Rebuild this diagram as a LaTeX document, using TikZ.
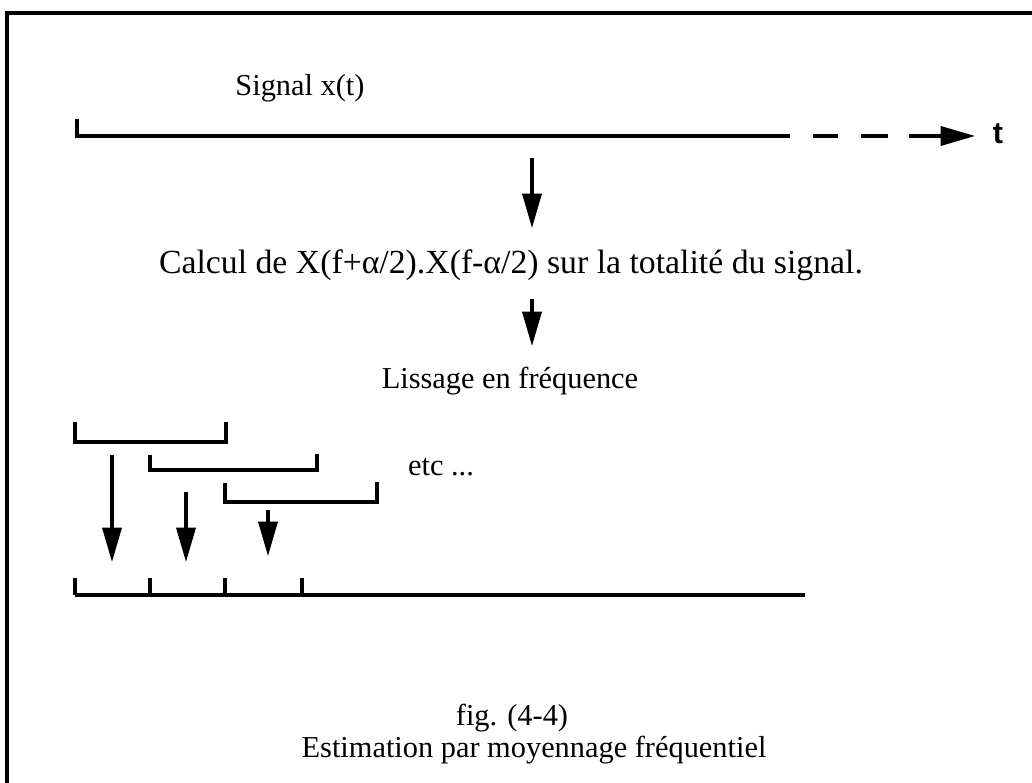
\documentclass[tikz,border=0pt]{standalone}
\usepackage{fontspec}
\setmainfont{Liberation Serif}
\newfontfamily\tfont{Liberation Sans}
\usetikzlibrary{arrows.meta, positioning}

\begin{document}
\begin{tikzpicture}[
  x=0.0125cm, y=-0.0125cm,
  font=\fontsize{10.8}{13}\selectfont,
  ln/.style={line width=1.1pt},
  brk/.style={line width=1.1pt, line cap=rect},
  ar/.style={line width=1.1pt, -{Triangle[length=4.3mm, width=2.4mm]}},
  lbl/.style={inner sep=1pt}
]
\useasboundingbox (0,0) rectangle (1032,783);

% ================= frame =================
\draw[line width=1.5pt] (1032,13) -- (7,13) -- (7,783);

% ================= signal axis =================
\node[lbl] (sig) at (300,88) {Signal x(t)};
\coordinate (T0) at (77,119);
\coordinate (TL) at (77,136);
\coordinate (TS) at (790,136);
\coordinate (TD) at (909,136);
\coordinate (TA) at (975,136);
\node[lbl, font=\tfont\bfseries\fontsize{10.8}{13}\selectfont] (t) at (998,134) {t};
\draw[ln] (T0) -- (TL) -- (TS);
\draw[ln] (813,136) -- (838,136) (861,136) -- (888,136);
\draw[ar] (TD) -- (TA);

% ================= processing steps =================
\node[lbl, font=\fontsize{12}{14}\selectfont] (calc) at (511,265)
  {Calcul de X(f+α/2).X(f-α/2) sur la totalité du signal.};
\node[lbl] (liss) at (510,381) {Lissage en fréquence};
\coordinate (A1s) at (532,158);
\coordinate (A1e) at (532,228);
\coordinate (A2s) at (532,299);
\coordinate (A2e) at (532,346);
\draw[ar] (A1s) -- (A1e);
\draw[ar] (A2s) -- (A2e);

% ================= sliding windows =================
\draw[brk] (75,424) -- (75,442) -- (226,442) -- (226,424);
\draw[brk] (150,457) -- (150,470) -- (317,470) -- (317,456);
\draw[brk] (225,485) -- (225,502) -- (377,502) -- (377,484);
\node[lbl] (etc) at (441,467) {etc ...};

\coordinate (W1) at (112,455);
\coordinate (W2) at (186,492);
\coordinate (W3) at (268,510);
\coordinate (F1) at (112,562);
\coordinate (F2) at (186,562);
\coordinate (F3) at (268,556);
\draw[ar] (W1) -- (F1);
\draw[ar] (W2) -- (F2);
\draw[ar] (W3) -- (F3);

% ================= frequency axis =================
\draw[ln] (75,595) -- (805,595);
\foreach \x in {75,150,225,302} {\draw[ln] (\x,578) -- (\x,595);}

% ================= caption =================
\node[lbl] (fig) at (512,718) {fig. (4-4)};
\node[lbl] (cap) at (534,750) {Estimation par moyennage fréquentiel};

\end{tikzpicture}
\end{document}
